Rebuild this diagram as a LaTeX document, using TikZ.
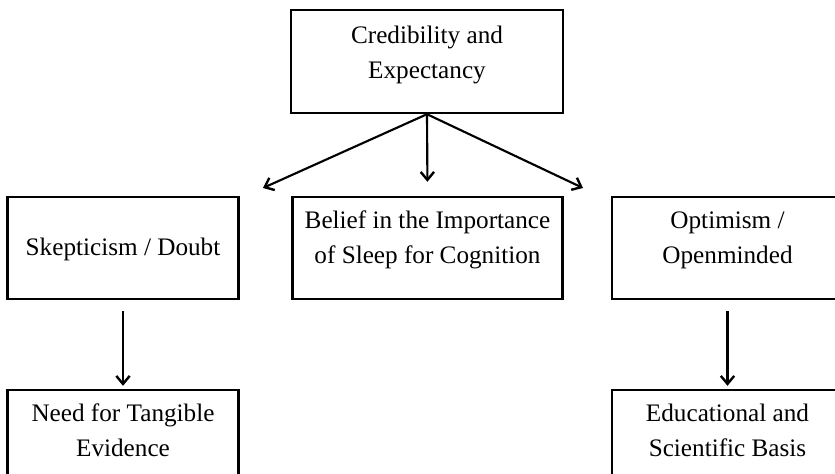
\documentclass[tikz,border=0pt]{standalone}
\usepackage{fontspec}
\setmainfont{Liberation Serif}
\usetikzlibrary{arrows.meta,positioning}
\tikzstyle{box} = [draw, rectangle, line width=1.8pt, inner sep=0pt, minimum width=173.25pt, minimum height=76.5pt]
\tikzstyle{widebox} = [box, minimum width=204pt]
\tikzstyle{txt} = [align=center, inner sep=0pt, font=\fontsize{18.9}{26.2}\selectfont]
\tikzstyle{arrow} = [line width=1.6pt,-{Straight Barb[length=6pt,width=10pt,line width=1.8pt]}]

\begin{document}
\begin{tikzpicture}[x=0.75pt,y=-0.75pt]
\useasboundingbox (0,0) rectangle (835,474);
\clip (0,0) rectangle (835,474);
% top
\draw (427,61.5) node (cred) [widebox, minimum height=77.25pt] {};
\draw (427,55) node (cred-t) [txt] {Credibility and\\Expectancy};
% middle row
\draw (123,248) node (skep) [box] {};
\draw (123,249) node (skep-t) [txt] {Skepticism / Doubt};
\draw (427.5,248) node (belief) [widebox, minimum width=202.5pt] {};
\draw (427.5,240) node (belief-t) [txt] {Belief in the Importance\\of Sleep for Cognition};
\draw (727.5,248) node (optim) [box] {};
\draw (727.5,240) node (optim-t) [txt] {Optimism /\\Openminded};
% bottom row
\draw (123,441) node (need) [box] {};
\draw (123,430) node (need-t) [txt] {Need for Tangible\\Evidence};
\draw (727.5,441) node (edu) [box] {};
\draw (727.5,430) node (edu-t) [txt] {Educational and\\Scientific Basis};
%
\coordinate (skep-in) at (263,188);
\coordinate (optim-in) at (583,188);
\draw [arrow] (cred.south) -- (skep-in);
\draw [arrow, shorten >=10.5pt] (cred.south) -- (belief.north);
\draw [arrow] (cred.south) -- (optim-in);
\draw [arrow, shorten <=8.25pt, shorten >=2.25pt] (skep.south) -- (need.north);
\draw [arrow, shorten <=8.25pt, shorten >=2.25pt] (optim.south) -- (edu.north);
\end{tikzpicture}
\end{document}
